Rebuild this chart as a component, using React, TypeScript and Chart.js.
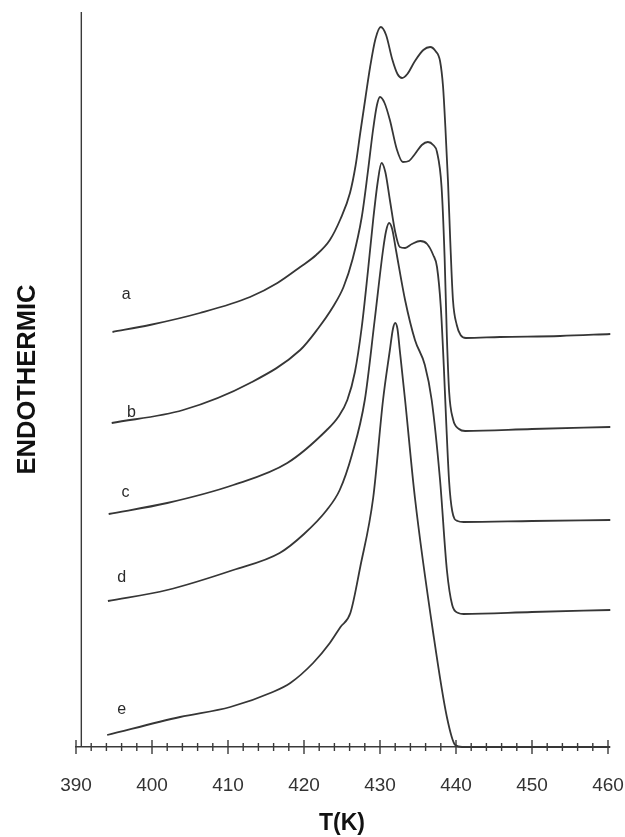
import React, { useEffect, useRef } from 'react';
import { Chart, registerables } from 'chart.js';

Chart.register(...registerables);

// ---- axis data ----
const T_MIN = 390;
const T_MAX = 460;
const MAJOR_STEP = 10;
const MINOR_STEP = 2;
const Y_MIN = 0;
const Y_MAX = 73.5;
const Y_AXIS_AT = 390.7; // temperature where the vertical (ENDOTHERMIC) axis line stands
const X_TITLE = 'T(K)';
const Y_TITLE = 'ENDOTHERMIC';

// ---- DSC curves (T in K, heat flow in arbitrary units, endothermic up) ----
const tempA = [394.8, 399.7, 406.3, 412.9, 416.5, 419.5, 421.6, 423.4, 424.8, 426.05, 426.8, 427.4, 428.1, 428.7, 429.4, 430.1, 430.8, 431.6, 432.3, 432.9, 433.6, 434.6, 435.7, 436.6, 437.3, 437.9, 438.3, 438.6, 438.95, 439.25, 439.6, 440.1, 440.6, 441.3, 445.8, 453.7, 460.3];
const heatA = [41.5, 42.2, 43.4, 45.0, 46.4, 48.0, 49.2, 50.7, 52.8, 55.4, 58.2, 61.4, 65.0, 68.0, 70.8, 72.0, 71.2, 68.8, 67.3, 66.9, 67.3, 68.6, 69.7, 70.0, 69.6, 68.6, 66.0, 62.0, 56.5, 50.5, 44.7, 42.2, 41.2, 40.9, 41.0, 41.1, 41.3];

const tempB = [394.7, 404.1, 412.9, 419.5, 421.8, 423.8, 425.2, 426.4, 427.6, 428.4, 429.1, 429.6, 430.0, 430.6, 431.3, 432.2, 433.0, 433.8, 434.6, 435.5, 436.3, 437.0, 437.5, 438.1, 438.5, 438.8, 439.1, 439.6, 440.4, 441.2, 450.0, 460.3];
const heatB = [32.4, 33.7, 36.4, 39.7, 41.8, 44.0, 46.0, 48.8, 53.0, 57.5, 61.8, 64.2, 65.0, 64.4, 62.7, 59.8, 58.5, 58.6, 59.3, 60.2, 60.5, 60.2, 59.5, 56.0, 49.0, 41.0, 35.5, 32.8, 31.8, 31.6, 31.8, 32.0];

const tempC = [394.3, 402.0, 410.7, 417.8, 423.0, 424.5, 425.7, 426.7, 427.6, 428.4, 429.1, 429.7, 430.2, 430.7, 431.3, 432.0, 432.6, 433.3, 434.2, 435.3, 436.2, 437.0, 437.5, 438.0, 438.4, 438.7, 439.1, 439.5, 440.2, 441.0, 450.0, 460.3];
const heatC = [23.3, 24.4, 26.2, 28.4, 31.7, 33.0, 34.7, 37.5, 42.0, 47.5, 52.7, 56.5, 58.4, 57.5, 54.7, 51.5, 50.0, 49.9, 50.3, 50.6, 50.3, 49.2, 48.0, 44.0, 38.0, 32.7, 26.5, 23.6, 22.6, 22.5, 22.6, 22.7];

const tempD = [394.2, 402.0, 410.7, 416.8, 420.0, 423.0, 424.7, 426.3, 428.0, 429.3, 430.4, 430.8, 431.2, 431.6, 432.1, 433.3, 434.6, 435.9, 436.8, 437.9, 438.8, 439.5, 440.3, 441.0, 450.0, 460.3];
const heatD = [14.6, 15.7, 17.7, 19.4, 21.3, 23.7, 25.7, 29.2, 34.7, 42.7, 49.7, 51.6, 52.4, 51.8, 49.7, 44.7, 40.7, 38.2, 34.7, 26.7, 17.7, 14.2, 13.4, 13.3, 13.5, 13.7];

const tempE = [394.1, 403.7, 410.3, 415.9, 418.2, 421.2, 423.4, 424.8, 426.1, 427.4, 429.1, 430.4, 431.3, 431.7, 432.0, 432.3, 432.6, 433.3, 434.6, 437.0, 438.8, 439.9, 440.8, 450.0, 460.3];
const heatE = [1.2, 3.0, 4.0, 5.5, 6.4, 8.4, 10.4, 12.0, 13.4, 18.0, 24.9, 34.7, 39.7, 41.8, 42.4, 41.8, 39.7, 34.7, 24.9, 11.4, 3.0, 0.2, 0.0, 0.0, 0.0];

// ---- curve labels ----
const curveNames = ['a', 'b', 'c', 'd', 'e'];
const labelTemps = [396.6, 397.3, 396.5, 396.0, 396.0];
const labelHeats = [45.2, 33.4, 25.4, 16.9, 3.7];

const LINE_COLOR = '#363636';
const AXIS_COLOR = '#3a3a3a';
const TEXT_COLOR = '#2a2a2a';
const FONT = '"Liberation Sans", Arial, Helvetica, sans-serif';
const X_SCALE_HEIGHT = 90;

const curves = [
  [tempA, heatA],
  [tempB, heatB],
  [tempC, heatC],
  [tempD, heatD],
  [tempE, heatE],
];

const dscPlugin = {
  id: 'dscDecorations',
  afterDatasetsDraw(chart: any) {
    const { ctx, chartArea } = chart;
    const xs = chart.scales.x;
    const ys = chart.scales.y;
    const base = ys.getPixelForValue(0);
    ctx.save();
    ctx.strokeStyle = AXIS_COLOR;
    ctx.lineWidth = 1.4;
    // vertical axis line
    const yx = xs.getPixelForValue(Y_AXIS_AT);
    ctx.beginPath();
    ctx.moveTo(yx, chartArea.top);
    ctx.lineTo(yx, base);
    ctx.stroke();
    // tick marks crossing the temperature axis
    for (let t = T_MIN; t <= T_MAX + 1e-6; t += MINOR_STEP) {
      const px = xs.getPixelForValue(t);
      const major = Math.abs(t % MAJOR_STEP) < 1e-6;
      const h = major ? 7 : 4;
      ctx.beginPath();
      ctx.moveTo(px, base - h);
      ctx.lineTo(px, base + h);
      ctx.stroke();
    }
    // curve labels
    ctx.fillStyle = TEXT_COLOR;
    ctx.font = `16px ${FONT}`;
    ctx.textAlign = 'center';
    ctx.textBaseline = 'middle';
    curveNames.forEach((n, i) => {
      ctx.fillText(n, xs.getPixelForValue(labelTemps[i]), ys.getPixelForValue(labelHeats[i]));
    });
    ctx.restore();
  },
};

export default function App() {
  const canvasRef = useRef<HTMLCanvasElement | null>(null);

  useEffect(() => {
    if (!canvasRef.current) return;
    const chart = new Chart(canvasRef.current, {
      type: 'line',
      data: {
        datasets: curves.map(([ts, hs], i) => ({
          label: curveNames[i],
          data: ts.map((t, k) => ({ x: t, y: hs[k] })),
          borderColor: LINE_COLOR,
          borderWidth: 1.8,
          pointRadius: 0,
          fill: false,
          cubicInterpolationMode: 'monotone' as const,
        })),
      },
      options: {
        responsive: false,
        animation: false,
        maintainAspectRatio: false,
        clip: false as any,
        layout: { padding: { top: 12, right: 17, bottom: 0, left: 0 } },
        plugins: {
          legend: { display: false },
          tooltip: { enabled: false },
        },
        scales: {
          x: {
            type: 'linear',
            min: T_MIN,
            max: T_MAX,
            grid: { display: false, drawTicks: false },
            border: { display: true, color: AXIS_COLOR, width: 1.5 },
            ticks: {
              stepSize: MAJOR_STEP,
              autoSkip: false,
              maxRotation: 0,
              padding: 27,
              color: '#333',
              font: { family: FONT, size: 19 },
            },
            title: {
              display: true,
              text: X_TITLE,
              color: '#111',
              font: { family: FONT, size: 23, weight: 'bold' },
              padding: { top: 0, bottom: 0 },
            },
            afterFit: (scale: any) => {
              scale.paddingLeft = 0;
              scale.paddingRight = 0;
              scale.height = X_SCALE_HEIGHT;
            },
          },
          y: {
            type: 'linear',
            min: Y_MIN,
            max: Y_MAX,
            grid: { display: false, drawTicks: false },
            border: { display: false },
            ticks: { display: false },
            title: {
              display: true,
              text: Y_TITLE,
              color: '#111',
              font: { family: FONT, size: 25.5, weight: 'bold' },
              padding: { top: 12.7, bottom: 32.7 },
            },
          },
        },
      },
      plugins: [dscPlugin],
    });
    return () => chart.destroy();
  }, []);

  return (
    <div style={{ position: 'absolute', left: 0, top: 0, width: 625, height: 837, background: '#fff' }}>
      <canvas ref={canvasRef} width={625} height={837} style={{ display: 'block' }} />
    </div>
  );
}
